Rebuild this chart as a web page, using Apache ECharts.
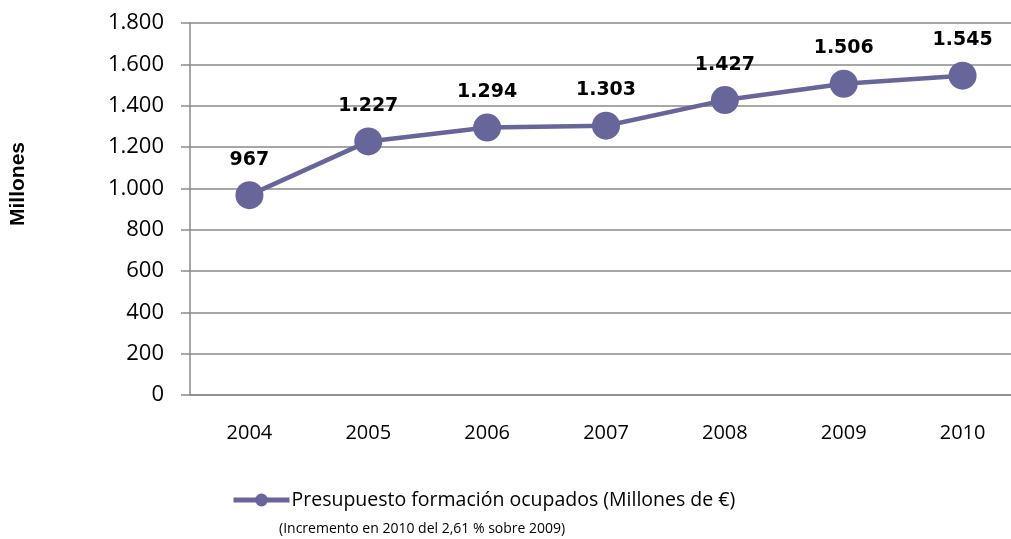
<!DOCTYPE html>
<html>
<head>
<meta charset="utf-8">
<style>
  html, body { margin: 0; padding: 0; background: #fff; }
  #chart { width: 1011px; height: 539px; }
</style>
<script src="https://cdn.jsdelivr.net/npm/echarts@6/dist/echarts.min.js"></script>
</head>
<body>
<div id="chart"></div>
<script>
// datos del grafico
const years = ['2004', '2005', '2006', '2007', '2008', '2009', '2010'];
const presupuesto = [967, 1227, 1294, 1303, 1427, 1506, 1545];
const serieName = 'Presupuesto formación ocupados (Millones de €)';
const nota = '(Incremento en 2010 del 2,61 % sobre 2009)';

const lineColor = '#66669a';
const axisGrey = '#8a8a8a';

// 1800 -> "1.800"
function miles(v) {
  return String(v).replace(/\B(?=(\d{3})+(?!\d))/g, '.');
}

let chart = echarts.init(document.getElementById('chart'));
let option = {
  animation: false,
  title: {
    text: nota,
    left: 274,
    top: 517,
    textStyle: {
      fontFamily: 'Open Sans',
      fontSize: 14,
      fontWeight: 'normal',
      color: '#000'
    }
  },
  legend: {
    left: 226,
    top: 485,
    itemWidth: 56,
    itemHeight: 16,
    itemGap: 0,
    data: [serieName],
    lineStyle: { width: 5 },
    textStyle: {
      fontFamily: 'Open Sans',
      fontSize: 19.5,
      color: '#000',
      padding: [0, 0, 0, -3]
    }
  },
  graphic: [{
    type: 'text',
    left: 8,
    top: 142,
    rotation: Math.PI / 2,
    style: {
      text: 'Millones',
      font: 'bold 21px "Liberation Sans"',
      fill: '#000'
    }
  }],
  grid: {
    left: 190,
    top: 23,
    width: 832,
    height: 372,
    outerBoundsMode: 'none'
  },
  xAxis: {
    type: 'category',
    data: years,
    axisLine: { lineStyle: { color: axisGrey, width: 1.5 } },
    axisTick: { length: 7, lineStyle: { color: axisGrey, width: 1.5 } },
    axisLabel: {
      margin: 28,
      fontFamily: 'Open Sans',
      fontSize: 20,
      color: '#000'
    }
  },
  yAxis: {
    type: 'value',
    min: 0,
    max: 1800,
    interval: 200,
    axisLine: { show: true, lineStyle: { color: axisGrey, width: 1.5 } },
    axisTick: { show: true, length: 9, lineStyle: { color: axisGrey, width: 1.5 } },
    splitLine: { lineStyle: { color: axisGrey, width: 1.5 } },
    axisLabel: {
      margin: 26,
      fontFamily: 'Open Sans',
      fontSize: 22,
      color: '#000',
      formatter: miles
    }
  },
  series: [{
    name: serieName,
    type: 'line',
    data: presupuesto,
    symbol: 'circle',
    symbolSize: 28,
    lineStyle: { color: lineColor, width: 4.5 },
    itemStyle: { color: lineColor },
    label: {
      show: true,
      position: 'top',
      distance: 12,
      fontFamily: 'DejaVu Sans',
      fontWeight: 'bold',
      fontSize: 19,
      color: '#000',
      formatter: p => miles(p.value)
    }
  }]
};
chart.setOption(option);
</script>
</body>
</html>
